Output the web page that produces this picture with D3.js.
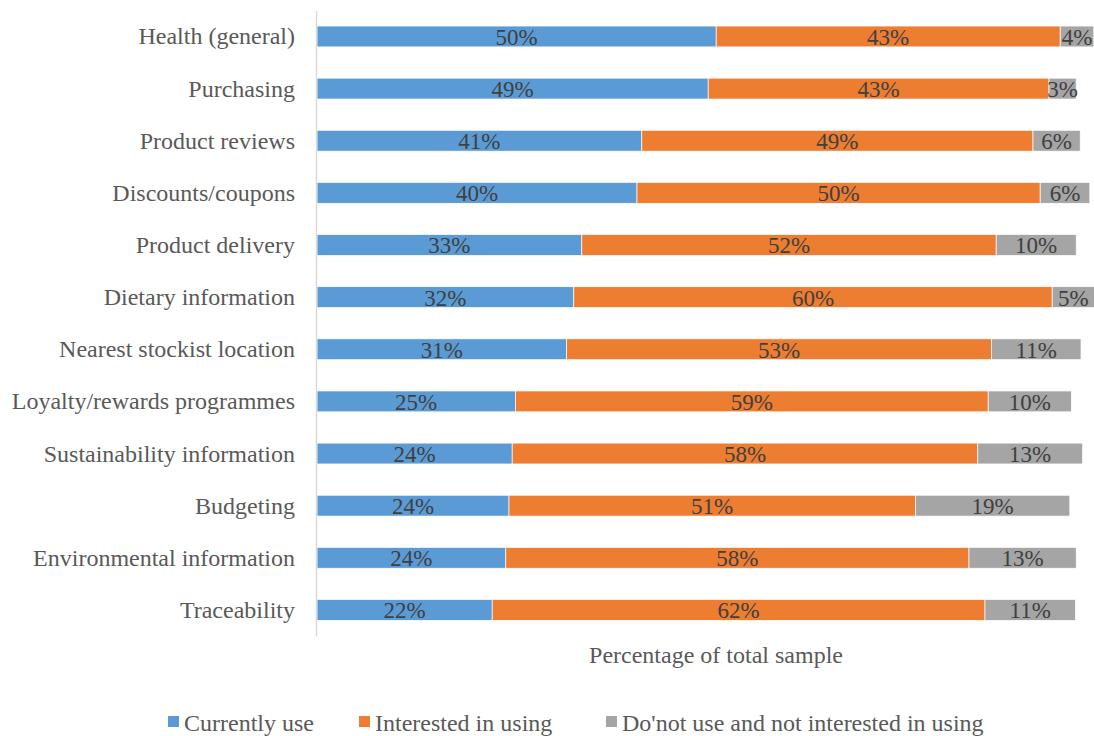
<!DOCTYPE html>
<html>
<head>
<meta charset="utf-8">
<script src="https://cdn.jsdelivr.net/npm/d3@7"></script>
<style>
  body { margin: 0; background: #fff; }
  svg { display: block; }
</style>
</head>
<body>
<svg width="1094" height="736"></svg>
<script>
const categories = [
    'Health (general)',
    'Purchasing',
    'Product reviews',
    'Discounts/coupons',
    'Product delivery',
    'Dietary information',
    'Nearest stockist location',
    'Loyalty/rewards programmes',
    'Sustainability information',
    'Budgeting',
    'Environmental information',
    'Traceability'
];

const currentlyUse  = [49.9, 48.9, 40.6, 40.0, 33.1, 32.1, 31.2, 24.8, 24.4, 24.0, 23.6, 21.9];
const interested    = [43.0, 42.6, 48.9, 50.4, 51.8, 59.8, 53.1, 59.1, 58.2, 50.8, 57.9, 61.6];
const notInterested = [4.2, 3.4, 5.9, 6.2, 10.0, 5.3, 11.2, 10.4, 13.1, 19.3, 13.4, 11.3];

const seriesNames = ['Currently use', 'Interested in using', "Do'not use and not interested in using"];
const seriesKeys = ['current', 'interested', 'notInterested'];
const colors = ['#5B9BD5', '#ED7D31', '#A5A5A5'];

const xTitle = 'Percentage of total sample';

// rows for d3.stack
const rows = categories.map((c, i) => ({
    category: c,
    current: currentlyUse[i],
    interested: interested[i],
    notInterested: notInterested[i]
}));

const svg = d3.select('svg');
const fontFamily = '"Liberation Serif", "Times New Roman", serif';

const marginLeft = 317;
const marginTop = 10.4;
const height = 625.6;

const chart = svg.append('g')
    .attr('transform', `translate(${marginLeft}, ${marginTop})`);

const xScale = d3.scaleLinear()
    .domain([0, 100])
    .range([0, 800]);

const yScale = d3.scaleBand()
    .domain(categories)
    .range([0, height])
    .paddingInner(0.6)
    .paddingOuter(0.3);

const stack = d3.stack().keys(seriesKeys);
const layers = stack(rows);

const layerG = chart.selectAll('g.layer')
    .data(layers)
    .join('g')
    .attr('class', 'layer')
    .attr('fill', (d, i) => colors[i]);

layerG.selectAll('rect')
    .data(d => d.map(p => ({ p: p, cat: p.data.category })))
    .join('rect')
    .attr('x', d => xScale(d.p[0]))
    .attr('y', d => yScale(d.cat))
    .attr('width', d => xScale(d.p[1]) - xScale(d.p[0]))
    .attr('height', yScale.bandwidth())
    .attr('stroke', '#fff')
    .attr('stroke-width', 0.7);

const format = d3.format('.0f');

layerG.selectAll('text')
    .data(d => d.map(p => ({ p: p, cat: p.data.category })))
    .join('text')
    .attr('x', d => xScale((d.p[0] + d.p[1]) / 2))
    .attr('y', d => yScale(d.cat) + yScale.bandwidth() / 2 + 8.5)
    .attr('text-anchor', 'middle')
    .attr('font-family', fontFamily)
    .attr('font-size', 23)
    .attr('fill', '#404040')
    .text(d => format(d.p[1] - d.p[0]) + '%');

// category axis
const yAxis = chart.append('g')
    .attr('transform', 'translate(-1,0)')
    .call(d3.axisLeft(yScale).tickSize(0).tickSizeOuter(0).tickPadding(21));

yAxis.select('.domain')
    .attr('stroke', '#D9D9D9')
    .attr('stroke-width', 1.5);

yAxis.selectAll('.tick text')
    .attr('font-family', fontFamily)
    .attr('font-size', 24)
    .attr('fill', '#595959')
    .attr('dy', null)
    .attr('y', 8);

// x axis title
svg.append('text')
    .attr('x', 716)
    .attr('y', 663)
    .attr('text-anchor', 'middle')
    .attr('font-family', fontFamily)
    .attr('font-size', 24)
    .attr('fill', '#595959')
    .text(xTitle);

// legend
const legendX = [168, 359, 606];
const legend = svg.append('g')
    .selectAll('g')
    .data(seriesNames)
    .join('g')
    .attr('transform', (d, i) => `translate(${legendX[i]}, 716)`);

legend.append('rect')
    .attr('width', 11)
    .attr('height', 11)
    .attr('fill', (d, i) => colors[i]);

legend.append('text')
    .attr('x', 16)
    .attr('y', 15)
    .attr('font-family', fontFamily)
    .attr('font-size', 24)
    .attr('fill', '#595959')
    .text(d => d);
</script>
</body>
</html>
